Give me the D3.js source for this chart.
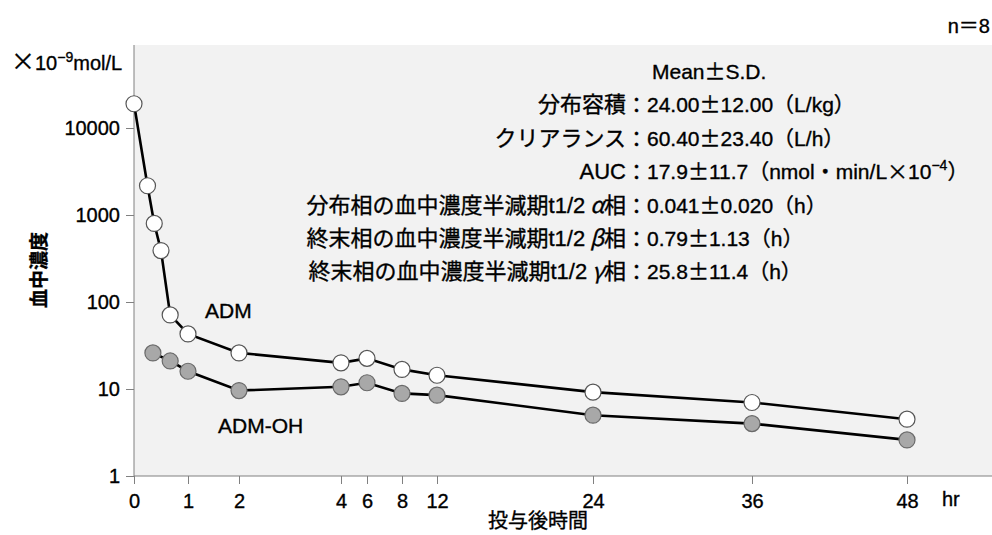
<!DOCTYPE html>
<meta charset="utf-8">
<script src="https://d3js.org/d3.v7.min.js"></script>
<style>
  body { margin: 0; background: #fff; }
  text { font-family: "Liberation Sans", "Noto Sans CJK JP", sans-serif; fill: #000; stroke: #000; stroke-width: 0.35px; }
  .jp { font-family: "Noto Sans CJK JP", sans-serif; }
</style>
<body>
<div id="chart"></div>
<script>
// time points (hr) and mean concentrations (x10^-9 mol/L)
var admTime = [0, 0.25, 0.375, 0.5, 0.67, 1, 2, 4, 6, 8, 12, 24, 36, 48];
var admConc = [19000, 2170, 800, 390, 71, 43, 26, 20, 22.5, 16.8, 14.4, 9.2, 7.0, 4.5];
var ohTime = [0.35, 0.67, 1, 2, 4, 6, 8, 12, 24, 36, 48];
var ohConc = [26, 21, 16, 9.6, 10.6, 11.8, 8.9, 8.5, 5.0, 4.0, 2.6];

var xTicks = [0, 1, 2, 4, 6, 8, 12, 24, 36, 48];
var yTicks = [1, 10, 100, 1000, 10000];

var statLabels = ["分布容積", "クリアランス", "AUC", "分布相の血中濃度半減期t1/2", "終末相の血中濃度半減期t1/2", "終末相の血中濃度半減期t1/2"];
var statGreek = ["", "", "", "α", "β", "γ"];
var statValues = ["24.00±12.00（L/kg）", "60.40±23.40（L/h）", "17.9±11.7（nmol・min/L", "0.041±0.020（h）", "0.79±1.13（h）", "25.8±11.4（h）"];

(function() {
  var W = 992, H = 535;
  var margin = {top: 45, left: 134};
  var width = W - margin.left,
      height = 476 - margin.top;

  var svg = d3.select("#chart").append("svg")
    .attr("width", W).attr("height", H);

  var g = svg.append("g")
    .attr("transform", "translate(" + margin.left + "," + margin.top + ")");

  // the time axis is stretched unevenly in the original, so map each tick
  var x = d3.scaleLinear()
    .domain(xTicks)
    .range([0, 54, 105, 207, 233, 268, 303, 459, 618, 773]);

  var y = d3.scaleLog()
    .domain([1, 90000])
    .range([height, 0]);

  g.append("rect")
    .attr("width", width).attr("height", height)
    .attr("fill", "#f2f2f2");

  var xAxis = g.append("g")
    .attr("transform", "translate(0," + height + ")")
    .call(d3.axisBottom(x).tickValues(xTicks).tickSize(8).tickPadding(5).tickFormat(d3.format("d")));
  var yAxis = g.append("g")
    .call(d3.axisLeft(y).tickValues(yTicks).tickSize(8).tickPadding(6).tickFormat(d3.format("d")));

  [xAxis, yAxis].forEach(function(a) {
    a.select(".domain").remove();
    a.selectAll("line").attr("stroke", "#808080");
    a.selectAll("text").style("font-size", "20px").attr("fill", "#000");
  });
  xAxis.selectAll("text").attr("dy", "0.95em");

  g.append("line").attr("x1", 0).attr("x2", width).attr("y1", height).attr("y2", height)
    .attr("stroke", "#808080");
  g.append("line").attr("x1", 0).attr("x2", 0).attr("y1", 0).attr("y2", height)
    .attr("stroke", "#808080");

  var line = d3.line()
    .x(function(d) { return x(d[0]); })
    .y(function(d) { return y(d[1]); });

  var series = [
    {t: ohTime, v: ohConc, fill: "#a8a8a8", stroke: "#6a6a6a"},
    {t: admTime, v: admConc, fill: "#ffffff", stroke: "#555555"}
  ];

  series.forEach(function(s) {
    var pts = d3.zip(s.t, s.v);
    g.append("path").datum(pts)
      .attr("fill", "none").attr("stroke", "#000").attr("stroke-width", 2.6)
      .attr("d", line);
    g.selectAll(null).data(pts).enter().append("circle")
      .attr("cx", function(d) { return x(d[0]); })
      .attr("cy", function(d) { return y(d[1]); })
      .attr("r", 8)
      .attr("fill", s.fill).attr("stroke", s.stroke).attr("stroke-width", 1.2);
  });

  // writes a string, putting each ± in the CJK font so it is full width
  function addPm(sel, str) {
    str.split("±").forEach(function(part, i) {
      if (i > 0) sel.append("tspan").attr("class", "jp").text("±");
      if (part) sel.append("tspan").text(part);
    });
  }

  // series labels
  svg.append("text").attr("x", 205).attr("y", 318).style("font-size", "21px").text("ADM");
  svg.append("text").attr("x", 218).attr("y", 433).style("font-size", "21px").text("ADM-OH");

  // axis titles and units
  var unit = svg.append("text").attr("x", 11).attr("y", 70).style("font-size", "20px");
  unit.append("tspan").attr("class", "jp").style("font-size", "24px").text("×");
  unit.append("tspan").text("10");
  unit.append("tspan").attr("dy", -8).style("font-size", "14px").text("−9");
  unit.append("tspan").attr("dy", 8).text("mol/L");

  svg.append("text").attr("x", 990).attr("y", 33).attr("text-anchor", "end")
    .style("font-size", "20px").text("n＝8");
  svg.append("text").attr("x", 942).attr("y", 506).style("font-size", "20px").text("hr");

  svg.append("text").attr("class", "jp")
    .attr("transform", "translate(46,270) rotate(-90)")
    .attr("text-anchor", "middle").style("font-size", "19px").style("font-weight", "bold")
    .text("血中濃度");
  svg.append("text").attr("class", "jp")
    .attr("x", 538).attr("y", 528).attr("text-anchor", "middle")
    .style("font-size", "20px")
    .text("投与後時間");

  // Mean ± S.D. block
  var rowH = 33.4, top = 79;
  var head = svg.append("text").attr("x", 652).attr("y", top).style("font-size", "21px");
  addPm(head, "Mean±S.D.");
  statLabels.forEach(function(lbl, i) {
    var yy = top + rowH * (i + 1);
    var t = svg.append("text").attr("x", 626).attr("y", yy)
      .attr("text-anchor", "end").style("font-size", "22px");
    t.append("tspan").text(lbl);
    if (statGreek[i]) {
      t.append("tspan").attr("class", "jp").style("font-style", "italic").text(" " + statGreek[i]);
      t.append("tspan").text("相");
    }
    svg.append("text").attr("class", "jp").attr("x", 626).attr("y", yy)
      .style("font-size", "21px").text("：");
    var v = svg.append("text").attr("x", 647).attr("y", yy).style("font-size", "21px");
    addPm(v, statValues[i]);
    if (i === 2) {
      v.append("tspan").attr("class", "jp").text("×");
      v.append("tspan").text("10");
      v.append("tspan").attr("dy", -9).style("font-size", "14px").text("−4");
      v.append("tspan").attr("dy", 9).text("）");
    }
  });
})();
</script>
</body>
